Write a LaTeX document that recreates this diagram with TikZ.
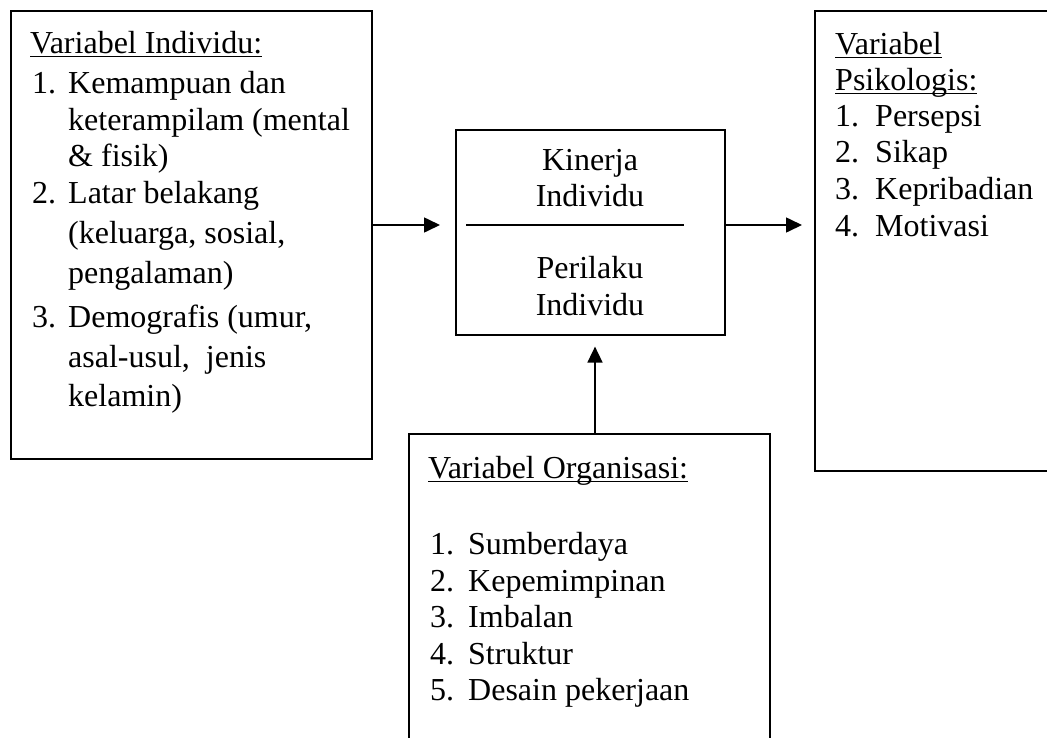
\documentclass[tikz,border=0pt]{standalone}
\usepackage{fontspec}
\setmainfont{Liberation Serif}
\usetikzlibrary{arrows.meta}
% underlined heading text with a rule that runs through descenders
\newcommand\ulword[1]{\setbox0\hbox{#1}\rlap{\rule[-4pt]{\wd0}{1.5pt}}\box0}
\begin{document}
\begin{tikzpicture}[x=1pt,y=-1pt,
  box/.style={draw, line width=1.6pt, inner sep=0pt, anchor=north west},
  txt/.style={anchor=base west, inner sep=0pt, font=\fontsize{32}{38}\selectfont},
  ctxt/.style={anchor=base, inner sep=0pt, font=\fontsize{32}{38}\selectfont},
  arr/.style={line width=1.6pt, -{Triangle[length=16pt,width=15pt]}}]
\useasboundingbox (0,0) rectangle (1047,737);
\clip (0,0) rectangle (1047,737);

% frames
\node[box, minimum width=361pt, minimum height=448pt] (lbox) at (10,10) {};
\node[box, minimum width=269pt, minimum height=205pt] (cbox) at (455,129) {};
\node[box, minimum width=260pt, minimum height=460pt] (rbox) at (814,10) {};
\node[box, minimum width=361pt, minimum height=330pt] (obox) at (408,433) {};

% individual variables
\node[txt] (lh) at (30,53) {\ulword{Variabel Individu:}};
\node[txt] (ln1) at (32,93) {1.};
\node[txt] (lt1a) at (68,93) {Kemampuan dan};
\node[txt] (lt1b) at (68,130) {keterampilam (mental};
\node[txt] (lt1c) at (68,166) {\& fisik)};
\node[txt] (ln2) at (32,203) {2.};
\node[txt] (lt2a) at (68,203) {Latar belakang};
\node[txt] (lt2b) at (68,243) {(keluarga, sosial,};
\node[txt] (lt2c) at (68,283) {pengalaman)};
\node[txt] (ln3) at (32,327) {3.};
\node[txt] (lt3a) at (68,327) {Demografis (umur,};
\node[txt] (lt3b) at (68,367) {asal-usul,\ \ jenis};
\node[txt] (lt3c) at (68,406) {kelamin)};

% performance / behaviour
\node[ctxt] (k1) at (590,170) {Kinerja};
\node[ctxt] (k2) at (590,206) {Individu};
\node[ctxt] (p1) at (590,278) {Perilaku};
\node[ctxt] (p2) at (590,315) {Individu};

% psychological variables
\node[txt] (rh1) at (835,54) {\ulword{Variabel}};
\node[txt] (rh2) at (835,90) {\ulword{Psikologis:}};
\node[txt] (rn1) at (835,126) {1.};
\node[txt] (rt1) at (875,126) {Persepsi};
\node[txt] (rn2) at (835,162) {2.};
\node[txt] (rt2) at (875,162) {Sikap};
\node[txt] (rn3) at (835,199) {3.};
\node[txt] (rt3) at (875,199) {Kepribadian};
\node[txt] (rn4) at (835,236) {4.};
\node[txt] (rt4) at (875,236) {Motivasi};

% organisational variables
\node[txt] (oh) at (428,478) {\ulword{Variabel Organisasi:}};
\node[txt] (on1) at (430,554) {1.};
\node[txt] (ot1) at (468,554) {Sumberdaya};
\node[txt] (on2) at (430,591) {2.};
\node[txt] (ot2) at (468,591) {Kepemimpinan};
\node[txt] (on3) at (430,627) {3.};
\node[txt] (ot3) at (468,627) {Imbalan};
\node[txt] (on4) at (430,664) {4.};
\node[txt] (ot4) at (468,664) {Struktur};
\node[txt] (on5) at (430,700) {5.};
\node[txt] (ot5) at (468,700) {Desain pekerjaan};

% connectors
\coordinate (axis) at (0,225);
\coordinate (upx) at (595,0);
\draw[line width=1.4pt] ([xshift=11pt]cbox.west |- axis) -- ([xshift=-42pt]cbox.east |- axis);
\draw[arr, shorten >=15pt] (lbox.east |- axis) -- (cbox.west |- axis);
\draw[arr, shorten >=12pt] (cbox.east |- axis) -- (rbox.west |- axis);
\draw[arr, shorten >=11pt] (obox.north -| upx) -- (cbox.south -| upx);
\end{tikzpicture}
\end{document}
